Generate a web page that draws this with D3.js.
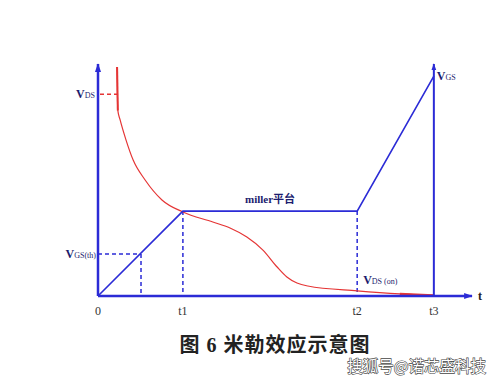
<!DOCTYPE html>
<html>
<head>
<meta charset="utf-8">
<script src="https://cdn.jsdelivr.net/npm/d3@7"></script>
<style>
  body { margin: 0; background: #fff; }
  svg { display: block; }
</style>
</head>
<body>
<main></main>
<script>
// time marks (arbitrary units, 0..100 along the t axis)
const tickNames = ["0", "t1", "t2", "t3"];
const tickTimes = [0, 22.7, 69.3, 89.8];
const thTime = 11.5;

// gate voltage VGS (percent of axis height)
const vgsTimes = [0, 22.7, 69.3, 89.8];
const vgsValues = [0, 36.6, 36.6, 94.8];
const vgsTh = 18.1;
const vdsLevel = 87;

// drain voltage VDS curve
const vdsTimes = [5.1, 5.3, 5.9, 7.5, 9.4, 12.6, 17.1, 22.7, 30.7, 35.3, 39.8, 44.1, 47.9, 50.5, 53.2, 56.1, 69.3, 80.7, 89.6];
const vdsValues = [98.7, 80, 76, 67.2, 58.6, 50, 41.4, 36.2, 31.9, 29.3, 25.4, 19.8, 12.5, 8.2, 5.6, 4.3, 2.2, 0.9, 0.3];

const W = 498, H = 382;
const blue = "#2b2bd6";
const red = "#e53535";
const navy = "#1c1c6e";

const svg = d3.select("main").append("svg")
  .attr("width", W).attr("height", H).attr("viewBox", `0 0 ${W} ${H}`);

const x = d3.scaleLinear().domain([0, 100]).range([98, 472]);
const y = d3.scaleLinear().domain([0, 100]).range([296, 64]);

const defs = svg.append("defs");
defs.append("marker")
  .attr("id", "arr")
  .attr("viewBox", "0 0 10 10")
  .attr("refX", 9).attr("refY", 5)
  .attr("markerWidth", 3.5).attr("markerHeight", 3.5)
  .attr("markerUnits", "strokeWidth")
  .attr("orient", "auto")
  .append("path").attr("d", "M0,1.5 L10,5 L0,8.5 Z").attr("fill", blue);

const g = svg.append("g");

// dashed guides
const dash = g.append("g")
  .attr("stroke", blue).attr("stroke-width", 1.5)
  .attr("stroke-dasharray", "4,3").attr("fill", "none");
dash.append("line")
  .attr("x1", x(0)).attr("x2", x(thTime)).attr("y1", y(vgsTh)).attr("y2", y(vgsTh));
dash.append("line")
  .attr("x1", x(thTime)).attr("x2", x(thTime)).attr("y1", y(vgsTh)).attr("y2", y(0));
dash.selectAll(".tv")
  .data([tickTimes[1], tickTimes[2]])
  .join("line")
  .attr("x1", d => x(d)).attr("x2", d => x(d))
  .attr("y1", y(vgsValues[1])).attr("y2", y(0));
g.append("line")
  .attr("stroke", red).attr("stroke-width", 1.5).attr("stroke-dasharray", "4,3")
  .attr("x1", x(0) + 2).attr("x2", x(vdsTimes[0])).attr("y1", y(vdsLevel)).attr("y2", y(vdsLevel));

// VDS curve
const vdsPts = vdsTimes.map((t, i) => [t, vdsValues[i]]);
const line = d3.line()
  .x(d => x(d[0]))
  .y(d => y(d[1]))
  .curve(d3.curveMonotoneX);
g.append("path")
  .attr("fill", "none").attr("stroke", red).attr("stroke-width", 1.2)
  .attr("d", line(vdsPts));
g.append("path")
  .attr("fill", "none").attr("stroke", red).attr("stroke-width", 2)
  .attr("d", line(vdsPts.slice(0, 2)));
g.append("path")
  .attr("fill", "none").attr("stroke", red).attr("stroke-width", 2.2)
  .attr("d", line(vdsPts.slice(-2)));

// VGS line
g.append("path")
  .attr("fill", "none").attr("stroke", blue).attr("stroke-width", 1.6)
  .attr("d", d3.line().x(d => x(d[0])).y(d => y(d[1]))(vgsTimes.map((t, i) => [t, vgsValues[i]])));

// axes
const ax = g.append("g").attr("stroke", blue).attr("stroke-width", 2.5).attr("fill", "none");
ax.append("line")
  .attr("x1", x(0)).attr("y1", y(0)).attr("x2", x(0)).attr("y2", y(100))
  .attr("marker-end", "url(#arr)");
ax.append("line")
  .attr("x1", x(0)).attr("y1", y(0)).attr("x2", x(100)).attr("y2", y(0))
  .attr("marker-end", "url(#arr)");
ax.append("line")
  .attr("stroke-width", 2)
  .attr("x1", x(tickTimes[3])).attr("y1", y(0)).attr("x2", x(tickTimes[3])).attr("y2", y(100))
  .attr("marker-end", "url(#arr)");

// tick labels
g.append("g")
  .style("font", "12px 'Liberation Serif', serif")
  .attr("fill", "#333")
  .attr("text-anchor", "middle")
  .selectAll("text")
  .data(tickNames)
  .join("text")
  .attr("x", (d, i) => x(tickTimes[i]))
  .attr("y", 315)
  .text(d => d);
g.append("text")
  .attr("x", x(100) + 6).attr("y", y(0) + 4)
  .style("font", "bold 12px 'Liberation Serif', serif")
  .attr("fill", "#222").text("t");

// voltage labels
function vlabel(px, py, sub, anchor) {
  const t = g.append("text")
    .attr("x", px).attr("y", py)
    .attr("text-anchor", anchor || "start")
    .attr("fill", navy)
    .style("font-family", "'Liberation Serif', serif");
  t.append("tspan").style("font-weight", "bold").style("font-size", "12px").text("V");
  t.append("tspan").style("font-size", "8px").text(sub);
}
vlabel(x(0) - 3, y(vdsLevel) + 4, "DS", "end");
vlabel(x(0) - 2, y(vgsTh) + 4, "GS(th)", "end");
vlabel(x(tickTimes[3]) + 3, y(vgsValues[3]) + 4, "GS");
vlabel(x(tickTimes[2]) + 6, y(0) - 12, "DS (on)");

g.append("text")
  .attr("x", (x(tickTimes[1]) + x(tickTimes[2])) / 2).attr("y", y(vgsValues[1]) - 8)
  .attr("text-anchor", "middle").attr("fill", navy)
  .style("font", "bold 11px 'Liberation Serif', 'Noto Sans CJK SC', serif")
  .text("miller平台");

// caption
svg.append("text")
  .attr("x", 275).attr("y", 352)
  .attr("text-anchor", "middle").attr("fill", "#222")
  .style("font", "bold 20px 'Liberation Serif', 'Noto Sans CJK SC', serif")
  .style("letter-spacing", "1px")
  .text("图 6  米勒效应示意图");

// watermark
svg.append("text")
  .attr("x", 486).attr("y", 372)
  .attr("text-anchor", "end")
  .attr("fill", "#fff").attr("stroke", "#444").attr("stroke-width", 1.2)
  .attr("paint-order", "stroke")
  .style("font", "15.5px 'Noto Sans CJK SC', sans-serif")
  .text("搜狐号@诺芯盛科技");
</script>
</body>
</html>
